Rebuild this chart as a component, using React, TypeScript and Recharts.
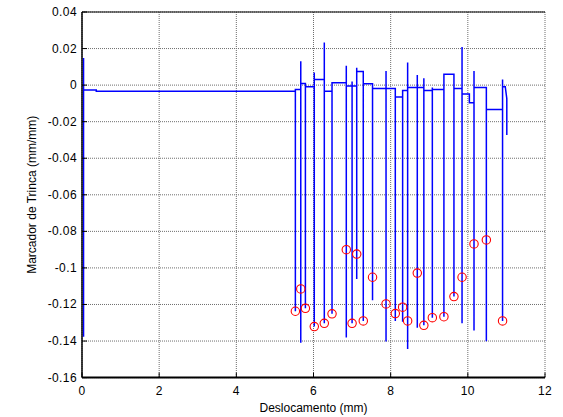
import { ComposedChart, Line, Scatter, XAxis, YAxis, CartesianGrid, Label } from "recharts";

// trace events: at each x the signal drops to `low`, jumps to `high`, then settles at `after`
const eventX = [0.04, 0.37, 5.53, 5.67, 5.79, 6.02, 6.28, 6.48, 6.85, 7.0, 7.12, 7.29, 7.53, 7.88, 8.12, 8.31, 8.44, 8.69, 8.86, 9.08, 9.38, 9.64, 9.85, 10.04, 10.16, 10.48, 10.9];
const eventLow = [-0.1376, -0.0033, -0.1237, -0.1409, -0.1221, -0.1321, -0.1303, -0.1251, -0.138, -0.1303, -0.106, -0.129, -0.1177, -0.1403, -0.129, -0.1294, -0.1443, -0.1327, -0.1314, -0.1272, -0.1267, -0.1157, -0.1303, -0.0097, -0.1343, -0.1401, -0.129];
const eventHigh = [0.0148, -0.0027, -0.0024, 0.0131, 0.0009, 0.0069, 0.0233, 0.0013, 0.0106, 0.002, 0.0095, 0.0075, 0.0007, 0.0077, -0.0018, -0.0029, 0.0124, 0.0055, 0.0037, -0.0013, 0.0059, 0.0059, 0.0209, -0.0049, 0.0077, -0.0013, 0.0031];
const levelAfter = [-0.0027, -0.0033, -0.0024, 0.0009, -0.0009, 0.0031, -0.0033, 0.0013, -0.0005, -0.0005, 0.0075, 0.0007, -0.0018, -0.0018, -0.0065, -0.0029, -0.0013, -0.0013, -0.0029, -0.0024, 0.0059, -0.0018, -0.0049, -0.0097, -0.0013, -0.0133, -0.0009];
const tailX = [10.97, 11.01, 11.01];
const tailY = [-0.0009, -0.0073, -0.0273];

// detected crack markers
const markerX = [5.53, 5.67, 5.79, 6.02, 6.28, 6.48, 6.85, 7.0, 7.12, 7.29, 7.53, 7.88, 8.12, 8.31, 8.44, 8.69, 8.86, 9.08, 9.38, 9.64, 9.85, 10.16, 10.48, 10.9];
const markerY = [-0.1237, -0.1115, -0.1221, -0.1321, -0.1303, -0.1251, -0.09, -0.1303, -0.0924, -0.129, -0.1051, -0.1197, -0.125, -0.1215, -0.129, -0.1028, -0.1314, -0.1272, -0.1267, -0.1157, -0.1051, -0.0869, -0.0847, -0.129];

const xTicks = [0, 2, 4, 6, 8, 10, 12];
const yTicks = [0.04, 0.02, 0, -0.02, -0.04, -0.06, -0.08, -0.1, -0.12, -0.14, -0.16];

const FONT = "'Liberation Sans', Arial, Helvetica, sans-serif";

function buildTrace() {
    const pts: { x: number; y: number }[] = [];
    let prev = eventHigh[0];
    eventX.forEach((x, i) => {
        pts.push({ x, y: prev });
        pts.push({ x, y: eventLow[i] });
        pts.push({ x, y: eventHigh[i] });
        pts.push({ x, y: levelAfter[i] });
        prev = levelAfter[i];
    });
    tailX.forEach((x, i) => pts.push({ x, y: tailY[i] }));
    return pts;
}

const trace = buildTrace();
const markers = markerX.map((x, i) => ({ x, y: markerY[i] }));

const fmtY = (v: number) => String(Number(v.toFixed(2)));

function BottomTick({ x, y, payload }: any) {
    return (
        <g>
            <line x1={x} x2={x} y1={y} y2={y - 5} stroke="#000" />
            <text x={x} y={y + 17} textAnchor="middle" fontSize={12} fontFamily={FONT} letterSpacing={0.4} fill="#000">
                {payload.value}
            </text>
        </g>
    );
}

function TopTick({ x, y }: any) {
    return <line x1={x} x2={x} y1={y} y2={y + 5} stroke="#000" />;
}

function LeftTick({ x, y, payload }: any) {
    return (
        <g>
            <line x1={x} x2={x + 5} y1={y} y2={y} stroke="#000" />
            <text x={x - 5} y={y + 4} textAnchor="end" fontSize={12} fontFamily={FONT} letterSpacing={0.4} fill="#000">
                {fmtY(payload.value)}
            </text>
        </g>
    );
}

function RightTick({ x, y }: any) {
    return <line x1={x} x2={x - 5} y1={y} y2={y} stroke="#000" />;
}

function YTitle() {
    return (
        <text x={32} y={194.8} transform="rotate(-90 32 194.8)" textAnchor="middle" dominantBaseline="central" fontSize={12} fontFamily={FONT} fill="#000">
            Marcador de Trinca (mm/mm)
        </text>
    );
}

export default function App() {
    return (
        <div style={{ position: "absolute", left: 0, top: 0, width: 563, height: 417, background: "#fff" }}>
            <ComposedChart width={563} height={417} margin={{ top: 11, right: 18, left: 8, bottom: 5 }}>
                <CartesianGrid stroke="#6e6e6e" strokeDasharray="1 1" />
                <XAxis dataKey="x" type="number" domain={[0, 12]} ticks={xTicks} interval={0} height={34.4}
                       tickSize={0} tickMargin={0} tick={<BottomTick />} axisLine={{ stroke: "#000", strokeWidth: 2 }}>
                    <Label value="Deslocamento (mm)" position="insideBottom" offset={0} fontSize={12} fontFamily={FONT} fill="#000" />
                </XAxis>
                <XAxis xAxisId="top" orientation="top" type="number" domain={[0, 12]} ticks={xTicks} interval={0} height={1}
                       allowDataOverflow tickSize={0} tickMargin={0} tick={<TopTick />} axisLine={{ stroke: "#000" }} />
                <YAxis type="number" domain={[-0.16, 0.04]} ticks={yTicks} interval={0} width={74}
                       tickSize={0} tickMargin={0} tick={<LeftTick />} axisLine={{ stroke: "#000", strokeWidth: 1.5 }}>
                    <Label content={<YTitle />} />
                </YAxis>
                <YAxis yAxisId="right" orientation="right" type="number" domain={[-0.16, 0.04]} ticks={yTicks} interval={0} width={0}
                       allowDataOverflow tickSize={0} tickMargin={0} tick={<RightTick />} axisLine={{ stroke: "#000", strokeWidth: 1.3 }} />
                <Line data={trace} dataKey="y" type="linear" stroke="#0000ff" strokeWidth={1.5} dot={false} activeDot={false} isAnimationActive={false} />
                <Scatter data={markers} dataKey="y" isAnimationActive={false}
                         shape={(p: any) => <circle cx={p.cx} cy={p.cy} r={4.2} fill="none" stroke="#ff0000" strokeWidth={1.1} />} />
            </ComposedChart>
        </div>
    );
}
